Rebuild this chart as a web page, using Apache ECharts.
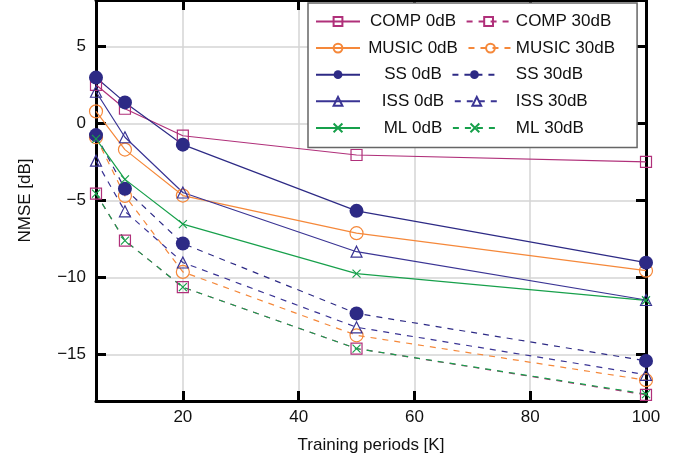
<!DOCTYPE html>
<html>
<head>
<meta charset="utf-8">
<script src="https://cdn.jsdelivr.net/npm/echarts@6/dist/echarts.min.js"></script>
<style>
  html, body { margin: 0; padding: 0; background: #fff; }
  #chart { width: 685px; height: 463px; }
</style>
</head>
<body>
<div id="chart"></div>
<script>
// training periods on the x axis
var periods = [5, 10, 20, 50, 100];

// NMSE [dB]
var comp0   = [2.5, 0.95, -0.8, -2.05, -2.5];
var comp30  = [-4.55, -7.6, -10.62, -14.6, -17.6];
var music0  = [0.78, -1.7, -4.68, -7.12, -9.55];
var music30 = [-0.9, -4.7, -9.63, -13.74, -16.65];
var ss0     = [2.97, 1.36, -1.38, -5.67, -9.03];
var ss30    = [-0.76, -4.24, -7.79, -12.32, -15.4];
var iss0    = [2.05, -0.9, -4.48, -8.32, -11.45];
var iss30   = [-2.42, -5.7, -9.02, -13.22, -16.3];
var ml0     = [-1.0, -3.63, -6.53, -9.74, -11.47];
var ml30    = [-4.55, -7.6, -10.62, -14.6, -17.55];

var xTicks = [20, 40, 60, 80, 100];
var yTicks = [-15, -10, -5, 0, 5];

var FONT = 'Liberation Sans';
var cComp = '#b0307a', cMusic = '#f5883a', cSS = '#2d2a85', cISS = '#3a3494', cML = '#17a04b';
var cross = 'path://M0 0L10 10M10 0L0 10';

function mk(name, vals, color, symbol, size, dashed, filled) {
  return {
    name: name,
    type: 'line',
    clip: false,
    data: periods.map(function (p, i) { return [p, vals[i]]; }),
    symbol: symbol,
    symbolSize: size,
    showAllSymbol: true,
    lineStyle: { color: color, width: 1.2, type: dashed ? [6, 6] : 'solid' },
    itemStyle: {
      color: filled ? color : 'rgba(255,255,255,0)',
      borderColor: color,
      borderWidth: filled ? 0 : 1.2
    }
  };
}

var minus = function (v) { return String(v).replace('-', '\u2212'); };

// shared look of the four frame axes
function frame(extra) {
  var base = {
    type: 'value',
    axisLine: { onZero: false, lineStyle: { color: '#000', width: 3 } },
    axisTick: { inside: true, length: 10, lineStyle: { color: '#000', width: 3 } },
    splitLine: { show: false }
  };
  return Object.assign(base, extra);
}

var chart = echarts.init(document.getElementById('chart'));
chart.setOption({
  animation: false,
  textStyle: { fontFamily: FONT },
  grid: { left: 96, right: 39, top: 0, bottom: 62 },
  legend: {
    left: 308, top: 3,
    width: 330,
    padding: [10, 22, 11, 7],
    itemWidth: 44, itemHeight: 11, itemGap: 9.6,
    backgroundColor: '#fff',
    borderColor: '#666', borderWidth: 1.5,
    formatter: function (n) { return '{a|' + n + '}'; },
    textStyle: {
      fontFamily: FONT, fontSize: 17, color: '#111',
      rich: { a: { width: 96, align: 'center', fontSize: 17, fontFamily: FONT, color: '#111' } }
    },
    data: ['COMP 0dB', 'COMP 30dB', 'MUSIC 0dB', 'MUSIC 30dB', 'SS 0dB', 'SS 30dB',
           'ISS 0dB', 'ISS 30dB', 'ML 0dB', 'ML 30dB']
  },
  xAxis: [frame({
    min: 5, max: 100, position: 'bottom',
    name: 'Training periods [K]', nameLocation: 'middle', nameGap: 36,
    nameTextStyle: { fontSize: 17, color: '#111', fontFamily: FONT },
    axisTick: { inside: true, length: 10, lineStyle: { color: '#000', width: 3 }, customValues: xTicks },
    axisLabel: { fontSize: 17, color: '#111', margin: 8, customValues: xTicks },
    splitLine: { show: true, lineStyle: { color: '#d4d4d4', width: 1.5 } }
  }), frame({
    min: 5, max: 100, position: 'top',
    axisTick: { inside: true, length: 10, lineStyle: { color: '#000', width: 3 }, customValues: xTicks },
    axisLabel: { show: false }
  })],
  yAxis: [frame({
    min: -18, max: 8, position: 'left',
    name: 'NMSE [dB]', nameLocation: 'middle', nameGap: 62,
    nameTextStyle: { fontSize: 17, color: '#111', fontFamily: FONT },
    axisTick: { inside: true, length: 10, lineStyle: { color: '#000', width: 3 }, customValues: yTicks },
    axisLabel: { fontSize: 17, color: '#111', margin: 10, customValues: yTicks, formatter: minus },
    splitLine: { show: true, lineStyle: { color: '#d4d4d4', width: 1.5 } }
  }), frame({
    min: -18, max: 8, position: 'right',
    axisTick: { inside: true, length: 10, lineStyle: { color: '#000', width: 3 }, customValues: yTicks },
    axisLabel: { show: false }
  })],
  series: [
    mk('COMP 0dB',   comp0,   cComp,  'rect',     11, false, false),
    mk('COMP 30dB',  comp30,  cComp,  'rect',     11, true,  false),
    mk('MUSIC 0dB',  music0,  cMusic, 'circle',   13, false, false),
    mk('MUSIC 30dB', music30, cMusic, 'circle',   13, true,  false),
    mk('SS 0dB',     ss0,     cSS,    'circle',   14, false, true),
    mk('SS 30dB',    ss30,    cSS,    'circle',   14, true,  true),
    mk('ISS 0dB',    iss0,    cISS,   'triangle', 11, false, false),
    mk('ISS 30dB',   iss30,   cISS,   'triangle', 11, true,  false),
    mk('ML 0dB',     ml0,     cML,    cross,       8, false, false),
    mk('ML 30dB',    ml30,    cML,    cross,       8, true,  false)
  ]
});
</script>
</body>
</html>
